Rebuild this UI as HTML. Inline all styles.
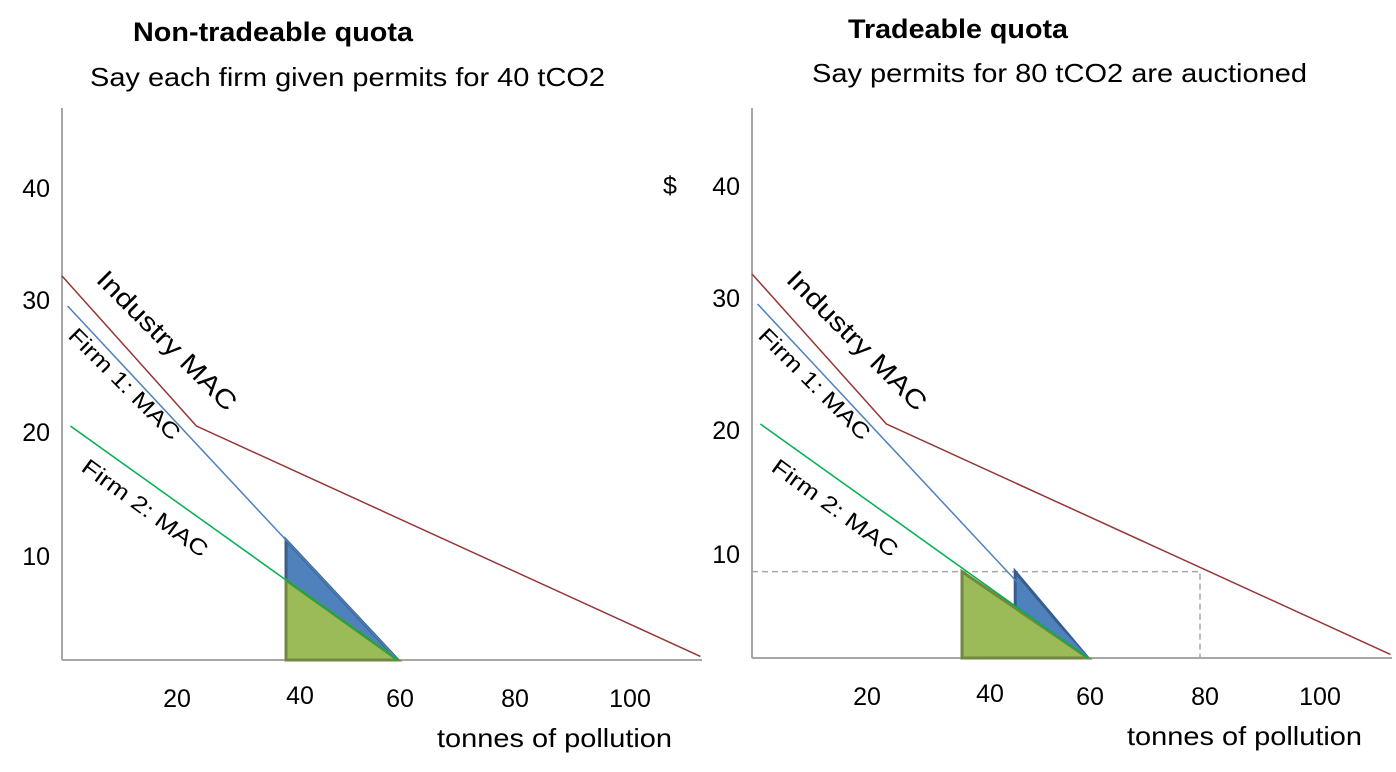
<!DOCTYPE html>
<html><head><meta charset="utf-8"><style>
body{margin:0;background:#fff;}
svg{display:block;font-family:"Liberation Sans",Arial,sans-serif;}
</style></head><body>
<svg id="c" width="1396" height="772"></svg>
<script>
const firm1MAC=[[1,29.5],[60,0]];
const firm2MAC=[[1.5,19.5],[60,0]];
const industryMAC=[[0,32],[24,19.5],[114,0.3]];
const yTicks=[40,30,20,10];
const xTicks=[20,40,60,80,100];
const leftQuota=40;
const rightPrice=7.2;
const rightQ1=47,rightQ2=37.5,rightIndustryQ=80;
const NS="http://www.w3.org/2000/svg";
const svg=document.getElementById('c');
function mk(tag,attrs,parent,name){const e=document.createElementNS(NS,tag);for(const k in attrs)e.setAttribute(k,attrs[k]);(parent||svg).appendChild(e);


return e;}
function panel(ox,oy,right){
  const g=mk('g',{},svg,right?'tradeable-panel':'non-tradeable-panel');
  const X=v=>ox+v*5.6, Y=v=>oy-v*12;
  mk('line',{x1:ox,y1:108,x2:ox,y2:oy,stroke:'#a6a6a6','stroke-width':2},g,'y-axis');
  mk('line',{x1:ox,y1:oy,x2:ox+640,y2:oy,stroke:'#a6a6a6','stroke-width':2},g,'x-axis');
  const yl=[188,300,432,556];
  yTicks.forEach((t,i)=>{const e=mk('text',{x:ox-12,y:yl[i]+9-(right?2:0),'font-size':25,'text-anchor':'end'},g,'y-tick-label');e.textContent=t;});
  const xo=[115,238,338,453,568];
  const xy=[47,44,47,47,47];
  xTicks.forEach((t,i)=>{const e=mk('text',{x:ox+xo[i],y:oy+xy[i],'font-size':25,'text-anchor':'middle'},g,'x-tick-label');e.textContent=t;});
  const xt=mk('text',{x:ox+375,y:oy+87,'font-size':26,textLength:235,lengthAdjust:'spacingAndGlyphs'},g,'x-axis-title');xt.textContent='tonnes of pollution';
  let fa,fb;
  if(!right){
    const p1=30*(1-leftQuota/60), p2=20*(1-leftQuota/60);
    fb=[[leftQuota,p1],[leftQuota,0],[60,0]];
    fa=[[leftQuota,p2],[leftQuota,0],[60,0]];
  } else {
    fa=[[rightQ2,rightPrice],[rightQ2,0],[60,0]];
    fb=[[rightQ1,rightPrice],[rightQ1,0],[60,0]];
    mk('polyline',{points:[[0,rightPrice],[rightIndustryQ,rightPrice],[rightIndustryQ,0]].map(p=>X(p[0])+','+Y(p[1])).join(' '),fill:'none',stroke:'#a6a6a6','stroke-width':1.5,'stroke-dasharray':'6,4'},g,'price-dashed-line');
  }
  const P=a=>a.map(p=>X(p[0])+','+Y(p[1])).join(' ');
  mk('polygon',{points:P(fb),fill:'#4f81bd',stroke:'#385d8a','stroke-width':3},g,'firm1-cost-area');
  mk('polygon',{points:P(fa),fill:'#9bbb59',stroke:'#71893f','stroke-width':3},g,'firm2-cost-area');
  mk('polyline',{points:P(firm1MAC),fill:'none',stroke:'#4f81bd','stroke-width':1.5},g,'firm1-mac-line');
  mk('polyline',{points:P(firm2MAC),fill:'none',stroke:'#00b050','stroke-width':1.5},g,'firm2-mac-line');
  mk('polyline',{points:P(industryMAC),fill:'none',stroke:'#953735','stroke-width':1.5},g,'industry-mac-line');
  const l1=mk('text',{'font-size':26,textLength:186,lengthAdjust:'spacingAndGlyphs',transform:`translate(${ox+33},${281}) rotate(45)`},g,'industry-mac-label');l1.textContent='Industry MAC';
  const l2=mk('text',{'font-size':22,textLength:148,lengthAdjust:'spacingAndGlyphs',transform:`translate(${ox+5},${337}) rotate(45)`},g,'firm1-mac-label');l2.textContent='Firm 1: MAC';
  const l3=mk('text',{'font-size':22,textLength:150,lengthAdjust:'spacingAndGlyphs',transform:`translate(${ox+18},${470}) rotate(36)`},g,'firm2-mac-label');l3.textContent='Firm 2: MAC';
}
panel(62,660,false);
panel(752,658,true);
function txt(x,y,s,sz,w,len,n){const e=mk('text',{x:x,y:y,'font-size':sz,'font-weight':w,textLength:len,lengthAdjust:'spacingAndGlyphs'},svg,n);e.textContent=s;}
txt(133,41,'Non-tradeable quota',27,'bold',280,'left-title');
txt(90,86,'Say each firm given permits for 40 tCO2',26,'normal',515,'left-subtitle');
txt(848,38,'Tradeable quota',27,'bold',220,'right-title');
txt(812,82,'Say permits for 80 tCO2 are auctioned',26,'normal',495,'right-subtitle');
const d=mk('text',{x:670,y:194,'font-size':25,'text-anchor':'middle'},svg,'dollar-label');d.textContent='$';
</script>
</body></html>
